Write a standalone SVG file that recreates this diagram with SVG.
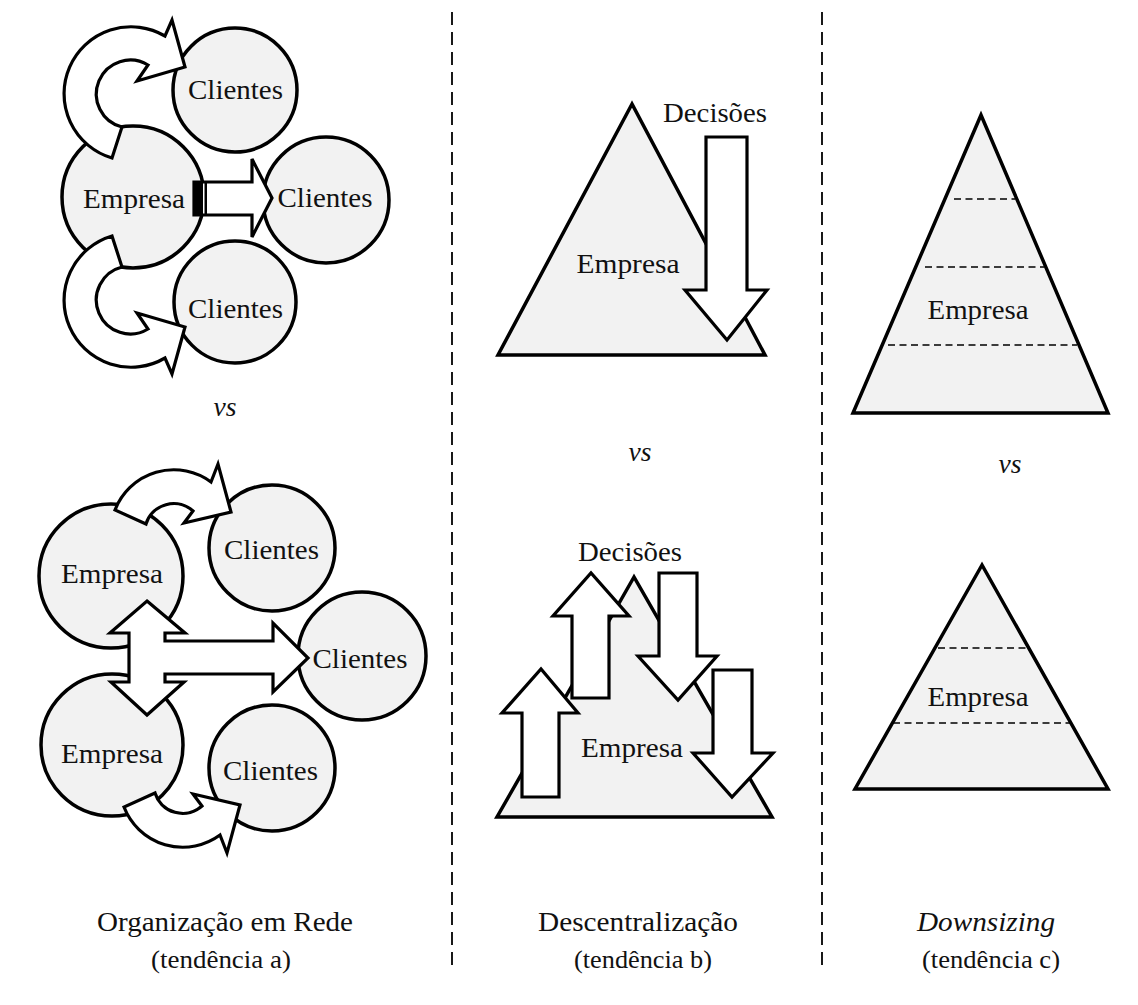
<svg xmlns="http://www.w3.org/2000/svg" width="1138" height="1005" viewBox="0 0 1138 1005">
<style>
.n{fill:#f2f2f2;stroke:#000;stroke-width:3.5}
.a{fill:#fff;stroke:#000;stroke-width:3.2;stroke-linejoin:miter}
.t{font-family:"Liberation Serif","Times New Roman",serif;font-size:28px;fill:#111;text-anchor:middle}
.s{font-size:26px}
.i{font-style:italic}
.d{stroke:#000;stroke-width:1.6;stroke-dasharray:7 4.5;fill:none}
.v{stroke:#000;stroke-width:1.8;stroke-dasharray:13 7;fill:none}
</style>
<rect width="1138" height="1005" fill="#fff"/>
<g id="separators">
<line class="v" x1="452" y1="12" x2="452" y2="968"/>
<line class="v" x1="822" y1="12" x2="822" y2="968"/>
</g>
<g id="a-empresa"><circle class="n" cx="133" cy="197" r="71"/></g>
<g id="a-clientes1"><circle class="n" cx="235" cy="90" r="62"/></g>
<g id="a-clientes2"><circle class="n" cx="326" cy="200" r="63"/></g>
<g id="a-clientes3"><circle class="n" cx="235" cy="302" r="61"/></g>
<g id="a2-empresa1"><circle class="n" cx="111" cy="576" r="72"/></g>
<g id="a2-empresa2"><circle class="n" cx="112" cy="745" r="71"/></g>
<g id="a2-clientes1"><circle class="n" cx="272" cy="548" r="63"/></g>
<g id="a2-clientes2"><circle class="n" cx="362" cy="656" r="64"/></g>
<g id="a2-clientes3"><circle class="n" cx="272" cy="768" r="63"/></g>
<g id="b-empresa1"><polygon class="n" points="632,104 498,355 765,355"/></g>
<g id="b-empresa2"><polygon class="n" points="634,577 497,817 772,817"/></g>
<g id="c-empresa1"><polygon class="n" points="981,115 853,413 1108,413"/>
<line class="d" x1="954" y1="199" x2="1015" y2="199"/>
<line class="d" x1="925" y1="267" x2="1044" y2="267"/>
<line class="d" x1="888" y1="345" x2="1077" y2="345"/>
</g>
<g id="c-empresa2"><polygon class="n" points="982,565 855,789 1108,789"/>
<line class="d" x1="938" y1="648" x2="1027" y2="648"/>
<line class="d" x1="893" y1="723" x2="1070" y2="723"/>
</g>
<g id="connectors">
<path id="ca1" class="a" d="M112,158 A67,67 0 1 1 165,36 L172,20 L185,67 L137,81 L148,65 A34,34 0 1 0 122,127 Z"/>
<path id="ca3" class="a" transform="translate(0,394) scale(1,-1)" d="M112,158 A67,67 0 1 1 165,36 L172,20 L185,67 L137,81 L148,65 A34,34 0 1 0 122,127 Z"/>
<g id="ca2">
<path class="a" d="M194,182 L252,182 L252,159 L272,198 L252,237 L252,215 L194,215 Z"/>
<rect x="194" y="182" width="9" height="33" fill="#000"/>
<rect x="204.5" y="182" width="2.5" height="33" fill="#000"/>
</g>
<path id="cb1" class="a" d="M115,510 A63,63 0 0 1 211,482 L218,464 L231,512 L184,523 L193,511 A29,29 0 0 0 146,524 Z"/>
<path id="cb3" class="a" transform="translate(9,1317) scale(1,-1)" d="M115,510 A63,63 0 0 1 211,482 L218,464 L231,512 L184,523 L193,511 A29,29 0 0 0 146,524 Z"/>
<path id="cb2" class="a" d="M147,601 L185,633 L165,633 L165,641 L273,641 L273,623 L308,658 L273,692 L273,674 L165,674 L165,682 L184,682 L147,715 L111,682 L129,682 L129,633 L110,633 Z"/>
<path id="cd1" class="a" d="M706,137 L747,137 L747,290 L767,290 L727,340 L685,290 L706,290 Z"/>
<path id="cd2" class="a" d="M522,797 L559,797 L559,713 L578,713 L541,669 L502,713 L522,713 Z"/>
<path id="cd3" class="a" d="M572,698 L609,698 L609,616 L629,616 L591,573 L553,616 L572,616 Z"/>
<path id="cd4" class="a" d="M659,573 L697,573 L697,656 L717,656 L678,700 L638,656 L659,656 Z"/>
<path id="cd5" class="a" d="M713,670 L752,670 L752,753 L773,753 L732,797 L693,753 L713,753 Z"/>
</g>
<g id="labels">
<text class="t" x="134" y="208" textLength="102" lengthAdjust="spacingAndGlyphs">Empresa</text>
<text class="t" x="235.5" y="99" textLength="95" lengthAdjust="spacingAndGlyphs">Clientes</text>
<text class="t" x="325" y="207" textLength="95" lengthAdjust="spacingAndGlyphs">Clientes</text>
<text class="t" x="235.5" y="318" textLength="95" lengthAdjust="spacingAndGlyphs">Clientes</text>
<text class="t i" x="225" y="416" textLength="23" lengthAdjust="spacingAndGlyphs">vs</text>
<text class="t" x="112" y="583" textLength="102" lengthAdjust="spacingAndGlyphs">Empresa</text>
<text class="t" x="112" y="763" textLength="102" lengthAdjust="spacingAndGlyphs">Empresa</text>
<text class="t" x="271.5" y="559" textLength="95" lengthAdjust="spacingAndGlyphs">Clientes</text>
<text class="t" x="360" y="668" textLength="95" lengthAdjust="spacingAndGlyphs">Clientes</text>
<text class="t" x="270.5" y="780" textLength="95" lengthAdjust="spacingAndGlyphs">Clientes</text>
<text class="t" x="715" y="122" textLength="104" lengthAdjust="spacingAndGlyphs">Decisões</text>
<text class="t" x="628" y="273" textLength="103" lengthAdjust="spacingAndGlyphs">Empresa</text>
<text class="t i" x="640" y="461" textLength="23" lengthAdjust="spacingAndGlyphs">vs</text>
<text class="t" x="630" y="561" textLength="104" lengthAdjust="spacingAndGlyphs">Decisões</text>
<text class="t" x="632" y="757" textLength="102" lengthAdjust="spacingAndGlyphs">Empresa</text>
<text class="t" x="978" y="319" textLength="101" lengthAdjust="spacingAndGlyphs">Empresa</text>
<text class="t i" x="1010" y="473" textLength="23" lengthAdjust="spacingAndGlyphs">vs</text>
<text class="t" x="978" y="706" textLength="101" lengthAdjust="spacingAndGlyphs">Empresa</text>
<text class="t" x="225" y="931" textLength="256" lengthAdjust="spacingAndGlyphs">Organização em Rede</text>
<text class="t s" x="221" y="968" textLength="140" lengthAdjust="spacingAndGlyphs">(tendência a)</text>
<text class="t" x="638" y="931" textLength="200" lengthAdjust="spacingAndGlyphs">Descentralização</text>
<text class="t s" x="643" y="968" textLength="138" lengthAdjust="spacingAndGlyphs">(tendência b)</text>
<text class="t i" x="986" y="931" textLength="138" lengthAdjust="spacingAndGlyphs">Downsizing</text>
<text class="t s" x="991" y="968" textLength="138" lengthAdjust="spacingAndGlyphs">(tendência c)</text>
</g>
</svg>
